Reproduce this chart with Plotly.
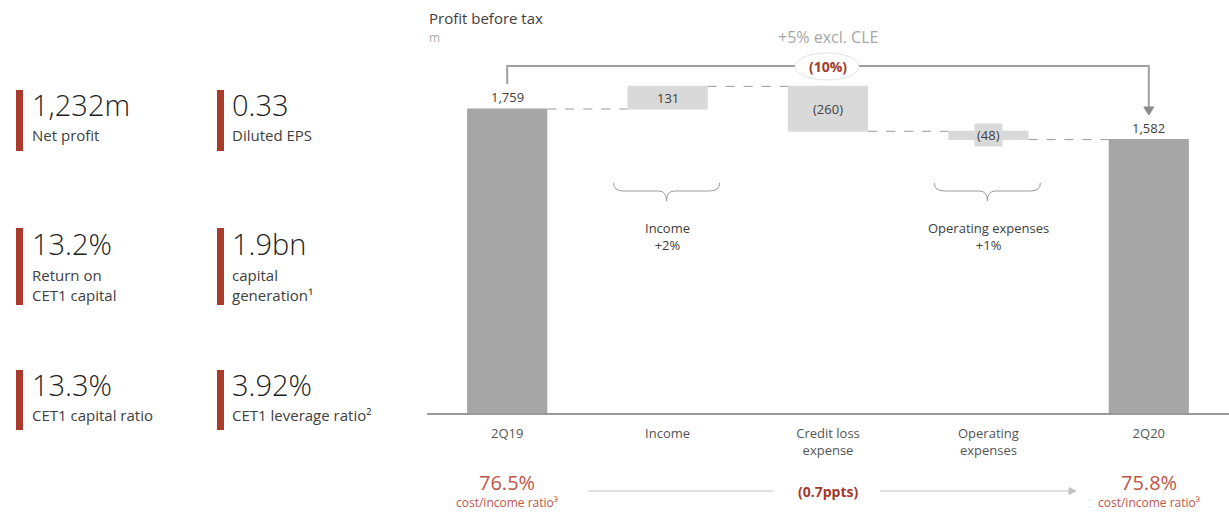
import plotly.graph_objects as go

# ---------------- data ----------------
categories = ["2Q19", "Income", "Credit loss<br>expense", "Operating<br>expenses", "2Q20"]
measures = ["absolute", "relative", "relative", "relative", "total"]
values = [1759, 131, -260, -48, 0]
value_labels = ["1,759", "131", "(260)", "(48)", "1,582"]

brace_index = [1, 3]
brace_labels = ["Income<br>+2%", "Operating expenses<br>+1%"]

change_total = "(10%)"
change_excl = "+5% excl. CLE"

cir_values = ["76.5%", "75.8%"]
cir_label = "cost/income ratio³"
cir_change = "(0.7ppts)"

kpi_values = ["1,232m", "0.33", "13.2%", "1.9bn", "13.3%", "3.92%"]
kpi_labels = ["Net profit", "Diluted EPS", "Return on<br>CET1 capital",
              "capital<br>generation¹", "CET1 capital ratio", "CET1 leverage ratio²"]

# ---------------- styling ----------------
FONT = "Open Sans"
W, H = 1229, 517
ML, MR, MT, MB = 427, 0, 20, 104
PW = W - ML - MR
PH = H - MT - MB
TOTAL_C = "#a6a6a6"
DELTA_C = "#d9d9d9"
RED_BAR = "#a83b2c"
RED_TXT = "#bd5646"
RED_BOLD = "#a3392a"
TXT = "#404040"


def PX(x):
    return (x - ML) / PW


def PY(y):
    return (H - MB - y) / PH


def cx(i):  # pixel center of category i
    return ML + PW * (i + 0.5) / len(categories)


# bar extents
tops, bottoms = [], []
cum = 0
for m, v in zip(measures, values):
    if m == "absolute":
        b, t = 0, v
        cum = v
    elif m == "relative":
        b, t = cum, cum + v
        cum += v
    else:
        b, t = 0, cum
    bottoms.append(min(b, t))
    tops.append(max(b, t))

fig = go.Figure(go.Waterfall(
    x=categories, y=values, measure=measures,
    width=0.5,
    totals=dict(marker=dict(color=TOTAL_C)),
    increasing=dict(marker=dict(color=DELTA_C)),
    decreasing=dict(marker=dict(color=DELTA_C)),
    connector=dict(line=dict(color="#9a9a9a", width=1, dash="dash")),
    textinfo="none", hoverinfo="skip",
))

ann = []
shapes = []

# value labels
for i, lab in enumerate(value_labels):
    if measures[i] in ("absolute", "total"):
        ann.append(dict(x=i, y=tops[i], xref="x", yref="y", text=lab, showarrow=False,
                        yanchor="bottom", yshift=1, font=dict(size=13, color=TXT)))
    else:
        mid = (tops[i] + bottoms[i]) / 2
        d = dict(x=i, y=mid, xref="x", yref="y", text=lab, showarrow=False,
                 yanchor="middle", font=dict(size=13, color=TXT))
        if tops[i] - bottoms[i] < 80:
            d.update(bgcolor=DELTA_C, borderpad=2)
        ann.append(d)

# title
ann.append(dict(x=PX(427), y=PY(18), xref="paper", yref="paper", text="Profit before tax",
                showarrow=False, xanchor="left", yanchor="middle",
                font=dict(size=15, color=TXT)))
ann.append(dict(x=PX(427), y=PY(38), xref="paper", yref="paper", text="m",
                showarrow=False, xanchor="left", yanchor="middle",
                font=dict(size=12, color="#ababab")))

# bracket over the chart
BR_Y = 66
x0p, x1p = cx(0), cx(len(categories) - 1)
shapes.append(dict(type="path", xref="paper", yref="paper",
                   path=f"M {PX(x0p)},{PY(84)} L {PX(x0p)},{PY(BR_Y)} L {PX(x1p)},{PY(BR_Y)} L {PX(x1p)},{PY(108)}",
                   line=dict(color="#a0a0a0", width=2)))
shapes.append(dict(type="path", xref="paper", yref="paper",
                   path=f"M {PX(x1p-5)},{PY(107)} L {PX(x1p+5)},{PY(107)} L {PX(x1p)},{PY(115)} Z",
                   fillcolor="#8c8c8c", line=dict(color="#8c8c8c", width=1)))
shapes.append(dict(type="circle", xref="paper", yref="paper",
                   x0=PX(795), x1=PX(859), y0=PY(80), y1=PY(53),
                   fillcolor="white", line=dict(color="#e3e3e3", width=1)))
ann.append(dict(x=2, y=PY(BR_Y), xref="x", yref="paper", text=f"<b>{change_total}</b>",
                showarrow=False, yanchor="middle", font=dict(size=14, color=RED_BOLD)))
ann.append(dict(x=2, y=PY(37), xref="x", yref="paper", text=change_excl,
                showarrow=False, yanchor="middle", font=dict(size=16, color="#a6a6a6")))

# braces
for i, lab in zip(brace_index, brace_labels):
    c = cx(i) - 1
    hw, yt, ym, yb = 53, 183, 191, 201
    pts = (f"M {PX(c-hw)},{PY(yt)} Q {PX(c-hw)},{PY(ym)} {PX(c-hw+10)},{PY(ym)} "
           f"L {PX(c-8)},{PY(ym)} Q {PX(c)},{PY(ym)} {PX(c)},{PY(yb)} "
           f"Q {PX(c)},{PY(ym)} {PX(c+8)},{PY(ym)} L {PX(c+hw-10)},{PY(ym)} "
           f"Q {PX(c+hw)},{PY(ym)} {PX(c+hw)},{PY(yt)}")
    shapes.append(dict(type="path", xref="paper", yref="paper", path=pts,
                       line=dict(color="#9a9a9a", width=1)))
    ann.append(dict(x=i, y=PY(236), xref="x", yref="paper", text=lab, showarrow=False,
                    yanchor="middle", font=dict(size=13, color=TXT)))

# cost / income ratio row
for k, i in enumerate([0, len(categories) - 1]):
    ann.append(dict(x=i, y=PY(482), xref="x", yref="paper", text=cir_values[k],
                    showarrow=False, yanchor="middle", font=dict(size=20, color=RED_TXT)))
    ann.append(dict(x=i, y=PY(502), xref="x", yref="paper", text=cir_label,
                    showarrow=False, yanchor="middle", font=dict(size=12, color=RED_TXT)))
ann.append(dict(x=2, y=PY(491), xref="x", yref="paper", text=f"<b>{cir_change}</b>",
                showarrow=False, yanchor="middle", font=dict(size=14, color=RED_BOLD)))
shapes.append(dict(type="line", xref="paper", yref="paper", x0=PX(588), x1=PX(773),
                   y0=PY(491), y1=PY(491), line=dict(color="#c4c4c4", width=1)))
shapes.append(dict(type="line", xref="paper", yref="paper", x0=PX(880), x1=PX(1069),
                   y0=PY(491), y1=PY(491), line=dict(color="#c4c4c4", width=1)))
shapes.append(dict(type="path", xref="paper", yref="paper",
                   path=f"M {PX(1069)},{PY(487.5)} L {PX(1076)},{PY(491)} L {PX(1069)},{PY(494.5)} Z",
                   fillcolor="#c4c4c4", line=dict(color="#c4c4c4", width=1)))

# KPI panel
col_bar_x = [16, 217]
col_txt_x = [30, 230]
row_val_y = [104, 243, 384]
row_lab_y = [135, 284.5, 415]
row_bar = [(90, 151), (228, 305), (370, 430)]
for k, (val, lab) in enumerate(zip(kpi_values, kpi_labels)):
    r, c = divmod(k, 2)
    shapes.append(dict(type="rect", xref="paper", yref="paper",
                       x0=PX(col_bar_x[c]), x1=PX(col_bar_x[c] + 7),
                       y0=PY(row_bar[r][1]), y1=PY(row_bar[r][0]),
                       fillcolor=RED_BAR, line=dict(width=0)))
    ann.append(dict(x=PX(col_txt_x[c]), y=PY(row_val_y[r]), xref="paper", yref="paper",
                    text=val, showarrow=False, xanchor="left", yanchor="middle",
                    font=dict(size=29, color="#1e1e1e", weight=300)))
    ann.append(dict(x=PX(col_txt_x[c]), y=PY(row_lab_y[r]), xref="paper", yref="paper",
                    text=lab, showarrow=False, xanchor="left", yanchor="middle", align="left",
                    font=dict(size=15, color=TXT)))

fig.update_layout(
    width=W, height=H,
    margin=dict(l=ML, r=MR, t=MT, b=MB),
    paper_bgcolor="white", plot_bgcolor="white",
    font=dict(family=FONT, color=TXT),
    showlegend=False,
    annotations=ann, shapes=shapes,
    xaxis=dict(showline=True, linecolor="#9a9a9a", linewidth=1.5, showgrid=False,
               zeroline=False, ticks="", ticklabelstandoff=8,
               tickfont=dict(size=13, color="#555555"), fixedrange=True),
    yaxis=dict(range=[0, 1759 * PH / 304], visible=False, showgrid=False, zeroline=False,
               fixedrange=True),
)

fig.write_html("out.html", config={"displayModeBar": False},
               post_script="document.body.style.margin='0px';")
